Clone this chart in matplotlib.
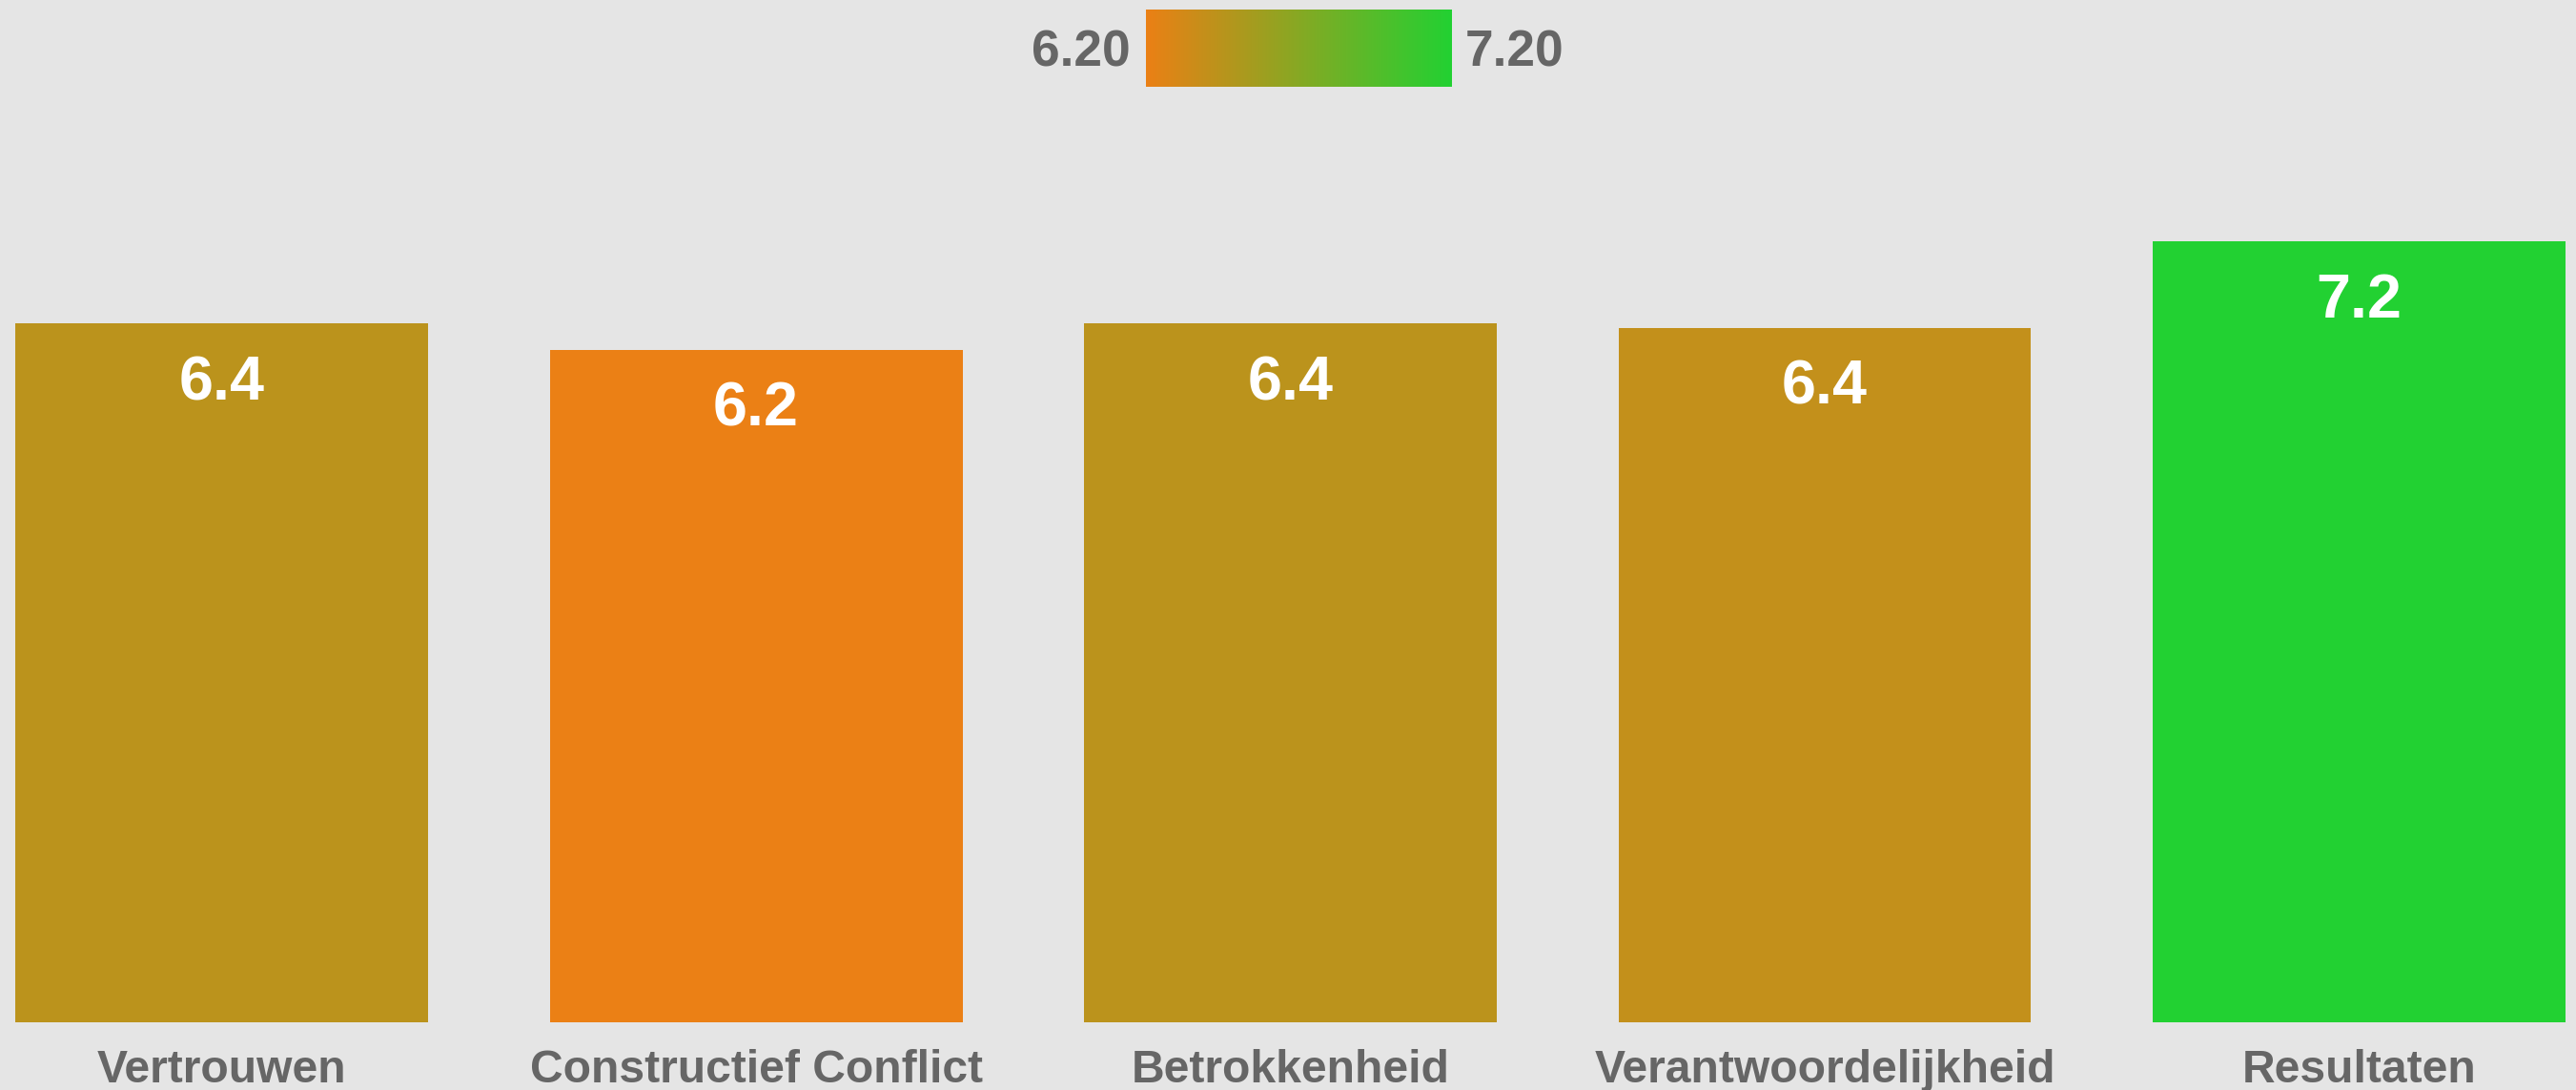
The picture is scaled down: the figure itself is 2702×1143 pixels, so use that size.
import matplotlib
matplotlib.use("Agg")
import matplotlib.pyplot as plt
import matplotlib.transforms as mtransforms
from matplotlib.colors import LinearSegmentedColormap, Normalize
import numpy as np

categories = ["Vertrouwen", "Constructief Conflict", "Betrokkenheid",
              "Verantwoordelijkheid", "Resultaten"]
values = [6.44, 6.20, 6.44, 6.40, 7.20]
labels = ["6.4", "6.2", "6.4", "6.4", "7.2"]
vmin, vmax = 6.20, 7.20
cbar_labels = ["6.20", "7.20"]

W, H = 2702, 1143
BG = "#E5E5E5"
GRAY = "#666666"
FONT = "Liberation Sans"

cmap = LinearSegmentedColormap.from_list("og", ["#EB8015", "#22D132"])
norm = Normalize(vmin, vmax)

fig = plt.figure(figsize=(W / 100, H / 100), dpi=100, facecolor=BG)

base_px = 1072
ax = fig.add_axes([0, (H - base_px) / H, 1, base_px / H])
ax.set_facecolor(BG)
px_per_unit = 113.75
ax.set_ylim(0, base_px / px_per_unit)
ax.set_xlim(-0.415, 4.406)
for s in ax.spines.values():
    s.set_visible(False)
ax.set_xticks([])
ax.set_yticks([])

x = np.arange(len(categories))
bars = ax.bar(x, values, width=0.7725, color=[cmap(norm(v)) for v in values])

for xi, v, lab in zip(x, values, labels):
    ax.annotate(lab, (xi, v), xytext=(0, -80 * 0.72), textcoords="offset points",
                ha="center", va="baseline", color="white", fontsize=46.5,
                fontweight="bold", family=FONT)

trans = mtransforms.blended_transform_factory(ax.transData, fig.transFigure)
for xi, c in zip(x, categories):
    ax.text(xi, (H - 1135) / H, c, transform=trans, ha="center", va="baseline",
            color=GRAY, fontsize=34.6, fontweight="bold", family=FONT)

# colorbar
cax = fig.add_axes([1202 / W, 1 - 91 / H, 321 / W, 81 / H])
grad = np.linspace(0, 1, 512).reshape(1, -1)
cax.imshow(grad, aspect="auto", cmap=cmap, extent=[0, 1, 0, 1])
cax.set_axis_off()
fig.text(1186 / W, 1 - 70 / H, cbar_labels[0], ha="right", va="baseline",
         color=GRAY, fontsize=38.3, fontweight="bold", family=FONT)
fig.text(1537 / W, 1 - 70 / H, cbar_labels[1], ha="left", va="baseline",
         color=GRAY, fontsize=38.3, fontweight="bold", family=FONT)

fig.savefig("out.png", dpi=100, facecolor=BG)
